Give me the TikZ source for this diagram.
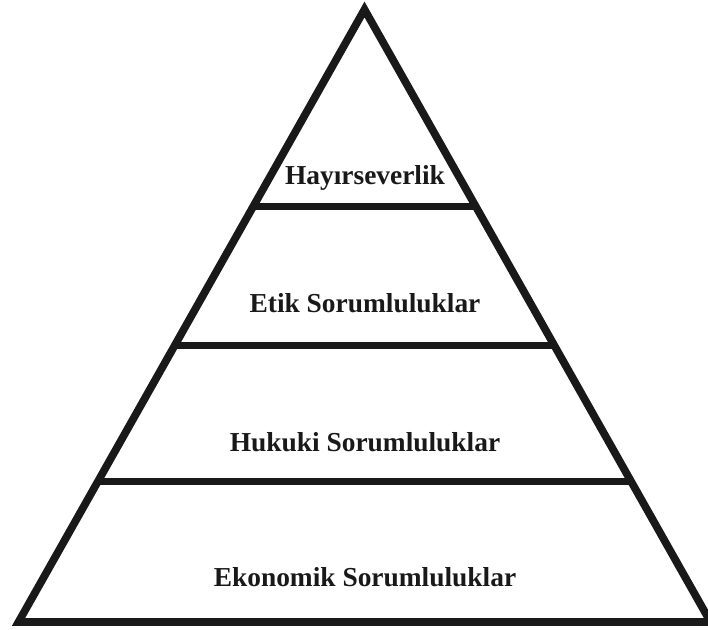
\documentclass[tikz,border=0pt]{standalone}
\usepackage{fontspec}
\setmainfont{Liberation Serif}
\usepackage{tikz}
\usetikzlibrary{calc}

\tikzset{
  katman/.style={anchor=base, text=black!90, font=\fontsize{7.8}{9}\selectfont\bfseries},
  aracizgi/.style={line width=2pt, black!90}
}

\begin{document}
\begin{tikzpicture}[scale=1.0]
  \useasboundingbox (0,0) rectangle (7.08,6.30);
  % piramit
  \coordinate (tepe) at (3.645,6.205);
  \coordinate (solalt) at (0.185,0.08);
  \coordinate (sagalt) at (7.105,0.08);
  \draw[line width=2.2pt, black!90, line join=miter] (tepe) -- (solalt)
    -- (sagalt) -- cycle;
  % katmanlar arasi cizgiler
  \foreach \t/\ad in {0.322/a, 0.548/b, 0.771/c}
    \draw[aracizgi] ($(tepe)!\t!(solalt)$) coordinate (\ad sol)
      -- ($(tepe)!\t!(sagalt)$) coordinate (\ad sag);
  % etiketler
  \node[katman] (hayir) at (3.65,4.45) {Hayırseverlik};
  \node[katman] (etik) at (3.65,3.17) {Etik Sorumluluklar};
  \node[katman] (hukuki) at (3.65,1.78) {Hukuki Sorumluluklar};
  \node[katman] (ekonomik) at (3.65,0.43) {Ekonomik Sorumluluklar};
\end{tikzpicture}
\end{document}
